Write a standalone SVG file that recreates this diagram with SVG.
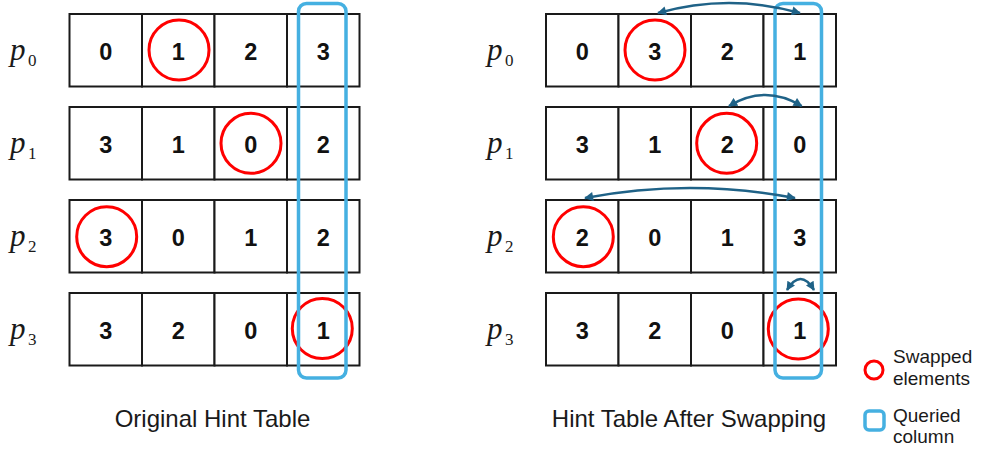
<svg xmlns="http://www.w3.org/2000/svg" width="982" height="452" viewBox="0 0 982 452">
  <style>
    .cell { fill: #ffffff; stroke: #1a1a1a; stroke-width: 2; }
    .num { font-family: "Liberation Sans", Arial, sans-serif; font-weight: bold; font-size: 23.5px; fill: #111111; text-anchor: middle; }
    .pl { font-family: "Liberation Serif", "Times New Roman", serif; font-style: italic; font-size: 31px; fill: #1a1a1a; }
    .sub { font-family: "Liberation Serif", "Times New Roman", serif; font-size: 17px; fill: #1a1a1a; }
    .swap { fill: none; stroke: #ff0000; stroke-width: 3; }
    .query { fill: none; stroke: #45b0e1; stroke-width: 3.5; }
    .cap { font-family: "Liberation Sans", Arial, sans-serif; font-size: 24px; fill: #1a1a1a; text-anchor: middle; }
    .leg { font-family: "Liberation Sans", Arial, sans-serif; font-size: 19px; fill: #1a1a1a; }
    .swaparrow { fill: none; stroke: #1f6287; stroke-width: 2.5; marker-start: url(#head); marker-end: url(#head); }
  </style>
  <defs>
    <marker id="head" viewBox="0 0 10 10" refX="9" refY="5" markerWidth="10" markerHeight="9" markerUnits="userSpaceOnUse" orient="auto-start-reverse">
      <path d="M0,0 L10,5 L0,10 z" fill="#1f6287"/>
    </marker>
    <g id="row">
      <rect class="cell" x="0" y="0" width="72.5" height="72.5"/>
      <rect class="cell" x="72.5" y="0" width="72.5" height="72.5"/>
      <rect class="cell" x="145" y="0" width="72.5" height="72.5"/>
      <rect class="cell" x="217.5" y="0" width="72.5" height="72.5"/>
    </g>
  </defs>

  <!-- Original hint table -->
  <g id="orig-p0">
    <use href="#row" x="69.5" y="14"/>
    <text class="pl" x="10" y="60">p</text><text class="sub" x="28" y="66">0</text>
    <text class="num" x="105.75" y="60">0</text>
    <text class="num" x="178.25" y="60">1</text>
    <text class="num" x="250.75" y="60">2</text>
    <text class="num" x="323.25" y="60">3</text>
  </g>
  <g id="orig-p1">
    <use href="#row" x="69.5" y="107"/>
    <text class="pl" x="10" y="153">p</text><text class="sub" x="28" y="159">1</text>
    <text class="num" x="105.75" y="153">3</text>
    <text class="num" x="178.25" y="153">1</text>
    <text class="num" x="250.75" y="153">0</text>
    <text class="num" x="323.25" y="153">2</text>
  </g>
  <g id="orig-p2">
    <use href="#row" x="69.5" y="200"/>
    <text class="pl" x="10" y="246">p</text><text class="sub" x="28" y="252">2</text>
    <text class="num" x="105.75" y="246">3</text>
    <text class="num" x="178.25" y="246">0</text>
    <text class="num" x="250.75" y="246">1</text>
    <text class="num" x="323.25" y="246">2</text>
  </g>
  <g id="orig-p3">
    <use href="#row" x="69.5" y="293"/>
    <text class="pl" x="10" y="339">p</text><text class="sub" x="28" y="345">3</text>
    <text class="num" x="105.75" y="339">3</text>
    <text class="num" x="178.25" y="339">2</text>
    <text class="num" x="250.75" y="339">0</text>
    <text class="num" x="323.25" y="339">1</text>
  </g>
  <g id="orig-marks">
    <circle class="swap" cx="179" cy="50" r="30"/>
    <circle class="swap" cx="251" cy="143.3" r="30"/>
    <circle class="swap" cx="106.7" cy="236.7" r="30"/>
    <circle class="swap" cx="322.3" cy="328.5" r="30"/>
    <rect class="query" x="298.5" y="3.5" width="47.5" height="374.5" rx="8"/>
  </g>
  <text id="orig-caption" class="cap" x="212.5" y="427">Original Hint Table</text>

  <!-- Hint table after swapping -->
  <g id="new-p0">
    <use href="#row" x="546" y="14"/>
    <text class="pl" x="487" y="60">p</text><text class="sub" x="505" y="66">0</text>
    <text class="num" x="582.25" y="60">0</text>
    <text class="num" x="654.75" y="60">3</text>
    <text class="num" x="727.25" y="60">2</text>
    <text class="num" x="799.75" y="60">1</text>
  </g>
  <g id="new-p1">
    <use href="#row" x="546" y="107"/>
    <text class="pl" x="487" y="153">p</text><text class="sub" x="505" y="159">1</text>
    <text class="num" x="582.25" y="153">3</text>
    <text class="num" x="654.75" y="153">1</text>
    <text class="num" x="727.25" y="153">2</text>
    <text class="num" x="799.75" y="153">0</text>
  </g>
  <g id="new-p2">
    <use href="#row" x="546" y="200"/>
    <text class="pl" x="487" y="246">p</text><text class="sub" x="505" y="252">2</text>
    <text class="num" x="582.25" y="246">2</text>
    <text class="num" x="654.75" y="246">0</text>
    <text class="num" x="727.25" y="246">1</text>
    <text class="num" x="799.75" y="246">3</text>
  </g>
  <g id="new-p3">
    <use href="#row" x="546" y="293"/>
    <text class="pl" x="487" y="339">p</text><text class="sub" x="505" y="345">3</text>
    <text class="num" x="582.25" y="339">3</text>
    <text class="num" x="654.75" y="339">2</text>
    <text class="num" x="727.25" y="339">0</text>
    <text class="num" x="799.75" y="339">1</text>
  </g>
  <g id="new-marks">
    <circle class="swap" cx="655" cy="50" r="30"/>
    <circle class="swap" cx="726.7" cy="143.3" r="30"/>
    <circle class="swap" cx="583.3" cy="236.7" r="30"/>
    <circle class="swap" cx="798.3" cy="329" r="30"/>
    <rect class="query" x="775" y="3.5" width="46.5" height="374.5" rx="8"/>
  </g>

  <!-- swap connectors -->
  <g id="connectors">
    <path class="swaparrow" d="M658,13 Q729,-7 800,13"/>
    <path class="swaparrow" d="M729,106 Q765,84 801.7,106"/>
    <path class="swaparrow" d="M585,198 Q690,178 795,198"/>
    <path class="swaparrow" d="M787,290 Q800.5,268 814,290"/>
  </g>
  <text id="new-caption" class="cap" x="689" y="427">Hint Table After Swapping</text>

  <!-- legend -->
  <g id="legend-swapped">
    <circle class="swap" cx="874" cy="370" r="9"/>
    <text class="leg" x="893" y="363">Swapped</text>
    <text class="leg" x="893" y="385">elements</text>
  </g>
  <g id="legend-queried">
    <rect class="query" x="865" y="411" width="19" height="19" rx="4"/>
    <text class="leg" x="893" y="422">Queried</text>
    <text class="leg" x="893" y="443">column</text>
  </g>
</svg>
